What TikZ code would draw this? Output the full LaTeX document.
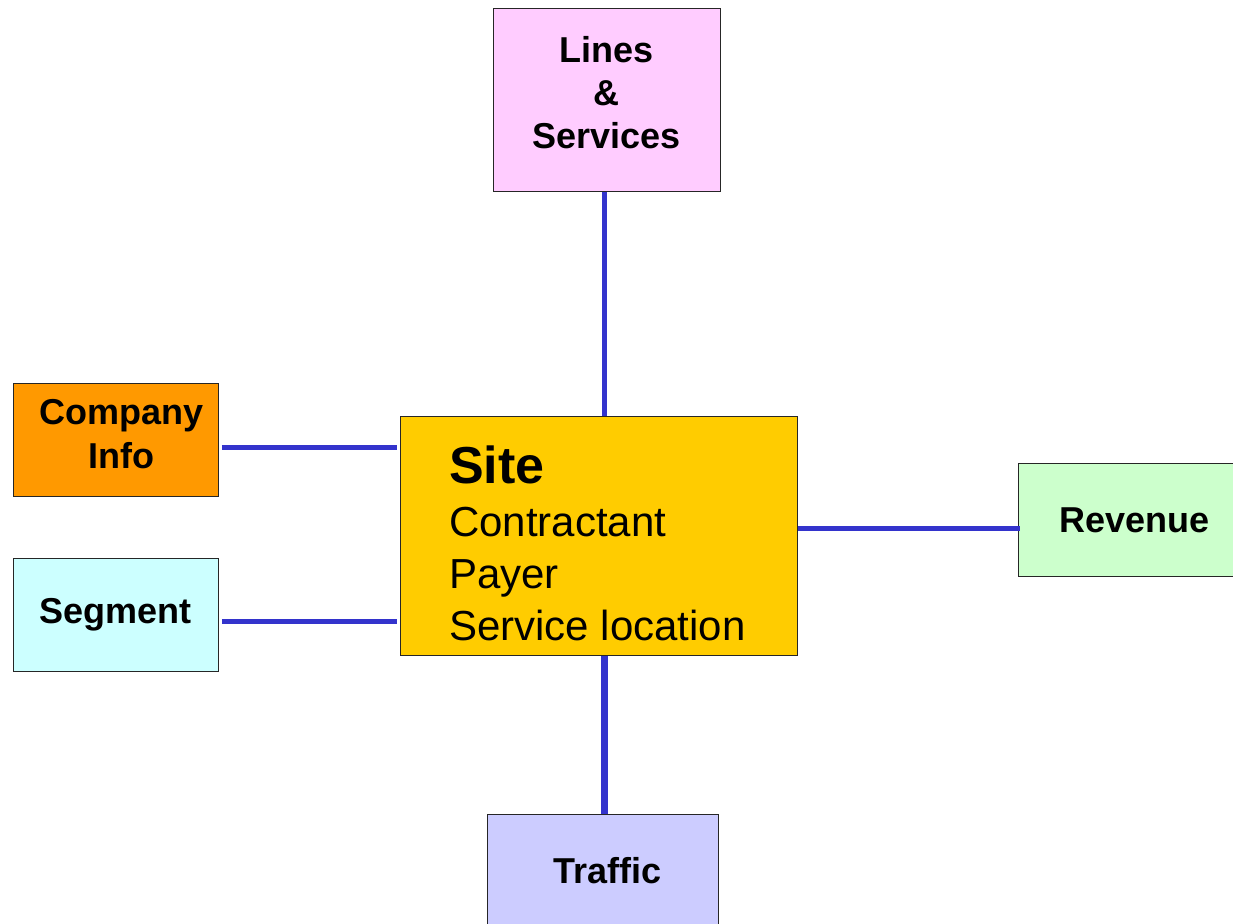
\documentclass[tikz,border=0pt]{standalone}
\usepackage{fontspec}
\setmainfont{Liberation Sans}
\definecolor{pinkbox}{HTML}{FFCCFF}
\definecolor{orangebox}{HTML}{FF9900}
\definecolor{cyanbox}{HTML}{CCFFFF}
\definecolor{sitebox}{HTML}{FFCC00}
\definecolor{greenbox}{HTML}{CCFFCC}
\definecolor{violetbox}{HTML}{CCCCFF}
\definecolor{connblue}{HTML}{3333CC}
\tikzset{
  box/.style={draw=black!85, line width=0.9pt, rectangle, anchor=north west, inner sep=0pt,
    align=center, font=\fontsize{36}{44}\selectfont\bfseries},
  conn/.style={draw=connblue, line width=5pt},
  thickconn/.style={draw=connblue, line width=6.5pt},
}
\begin{document}
\begin{tikzpicture}[x=1pt, y=-1pt]
\path[use as bounding box, clip] (0,0) rectangle (1233,923);
\fill[white] (0,0) rectangle (1233,923);

\node[box, fill=pinkbox, minimum width=227pt, minimum height=183pt] (lines) at (493,8)
  {Lines\\[-1pt]\&\\[-1pt]Services\rule[-14pt]{0pt}{0pt}};
\node[box, fill=orangebox, minimum width=205pt, minimum height=113pt] (company) at (13,383)
  {\hspace*{12pt}Company\\\hspace*{12pt}Info\rule[-12pt]{0pt}{0pt}};
\node[box, fill=cyanbox, minimum width=205pt, minimum height=113pt] (segment) at (13,558)
  {Segment};
\node[box, fill=sitebox, minimum width=397pt, minimum height=239pt] (site) at (400,416) {};
\node[box, fill=greenbox, minimum width=232pt, minimum height=113pt] (revenue) at (1018,463)
  {Revenue};
\node[box, fill=violetbox, minimum width=231pt, minimum height=113pt] (traffic) at (487,814)
  {\hspace*{9pt}Traffic};

\node[anchor=base west, inner sep=0pt, align=left,
      font=\fontsize{42}{52}\selectfont] (sitetext) at (449,640)
  {{\fontsize{52}{52}\selectfont\bfseries Site}\\[1pt]Contractant\\Payer\\Service location};

\draw[conn] ([xshift=-2.5pt]lines.south) -- ([xshift=-2.5pt]lines.south |- site.north);
\draw[conn] ([xshift=3pt]company.east |- 0,447) -- ([xshift=-3pt]site.west |- 0,447);
\draw[conn] ([xshift=3pt]segment.east |- 0,621) -- ([xshift=-3pt]site.west |- 0,621);
\draw[conn] (site.east |- 0,528) -- ([xshift=2pt]revenue.west |- 0,528);
\draw[thickconn] ([xshift=1.5pt]traffic.north) -- ([xshift=1.5pt]traffic.north |- site.south);
\end{tikzpicture}
\end{document}
